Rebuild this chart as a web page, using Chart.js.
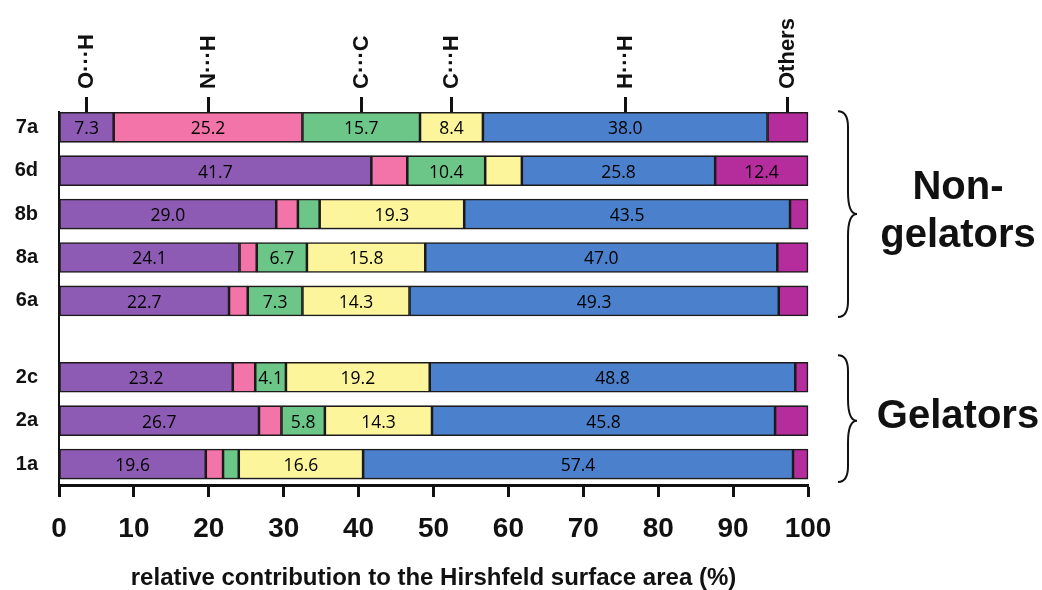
<!DOCTYPE html>
<html>
<head>
<meta charset="utf-8">
<script src="https://cdn.jsdelivr.net/npm/chart.js@4.4.1/dist/chart.umd.min.js"></script>
<style>
  html, body { margin: 0; padding: 0; background: #ffffff; }
  #wrap { width: 1042px; height: 590px; position: relative; }
</style>
</head>
<body>
<div id="wrap"><canvas id="c" width="1042" height="590"></canvas></div>
<script>
// ---------------- data ----------------
const categories = ['7a', '6d', '8b', '8a', '6a', '2c', '2a', '1a'];
const groupOf    = ['non', 'non', 'non', 'non', 'non', 'gel', 'gel', 'gel'];
const groupNames = { non: ['Non-', 'gelators'], gel: ['Gelators'] };

const contactNames = ['O\u00B7\u00B7\u00B7H', 'N\u00B7\u00B7\u00B7H', 'C\u00B7\u00B7\u00B7C', 'C\u00B7\u00B7\u00B7H', 'H\u00B7\u00B7\u00B7H', 'Others'];

const OH     = [7.3, 41.7, 29.0, 24.1, 22.7, 23.2, 26.7, 19.6];
const NH     = [25.2, 4.8, 2.9, 2.3, 2.5, 3.0, 3.0, 2.3];
const CC     = [15.7, 10.4, 2.9, 6.7, 7.3, 4.1, 5.8, 2.1];
const CH     = [8.4, 4.9, 19.3, 15.8, 14.3, 19.2, 14.3, 16.6];
const HH     = [38.0, 25.8, 43.5, 47.0, 49.3, 48.8, 45.8, 57.4];
const Others = [5.4, 12.4, 2.4, 4.1, 3.9, 1.7, 4.4, 2.0];

// which segments carry a printed value in the original figure
const OH_shown     = [1, 1, 1, 1, 1, 1, 1, 1];
const NH_shown     = [1, 0, 0, 0, 0, 0, 0, 0];
const CC_shown     = [1, 1, 0, 1, 1, 1, 1, 0];
const CH_shown     = [1, 0, 1, 1, 1, 1, 1, 1];
const HH_shown     = [1, 1, 1, 1, 1, 1, 1, 1];
const Others_shown = [0, 1, 0, 0, 0, 0, 0, 0];

const xTickValues = [0, 10, 20, 30, 40, 50, 60, 70, 80, 90, 100];
const xTitle = 'relative contribution to the Hirshfeld surface area (%)';

// ---------------- styles / layout ----------------
const colors = ['#8d5bb4', '#f274a8', '#6cc688', '#fdf59b', '#4a80cc', '#b52d9c'];
const GROUP_GAP = 0.76;           // extra spacing between the two groups (in row units)
const rowPos = i => i + (groupOf[i] === 'gel' ? GROUP_GAP : 0);
const BAR_PX = 30;
const SANS = "'Liberation Sans', Arial, Helvetica, sans-serif";
const LABEL_FONT = "'Open Sans', 'Noto Sans', sans-serif";

const seriesValues = [OH, NH, CC, CH, HH, Others];
const seriesShown  = [OH_shown, NH_shown, CC_shown, CH_shown, HH_shown, Others_shown];

// top axis ticks: midpoints of each contact type in the first row
const topTicks = (() => {
  let acc = 0;
  return seriesValues.map(arr => { const m = acc + arr[0] / 2; acc += arr[0]; return m; });
})();

const datasets = seriesValues.map((vals, s) => ({
  label: contactNames[s],
  data: vals.map((v, i) => ({ x: v, y: rowPos(i) })),
  backgroundColor: colors[s],
  borderColor: '#1c1a1b',
  borderWidth: 1.6,
  borderSkipped: false,
  barThickness: BAR_PX,
  xAxisID: 'x',
  yAxisID: 'y',
  clip: false
}));

// value labels inside the segments
const valueLabels = {
  id: 'valueLabels',
  afterDatasetsDraw(chart) {
    const ctx = chart.ctx;
    ctx.save();
    ctx.font = "17.5px " + LABEL_FONT;
    ctx.fillStyle = '#000000';
    ctx.textAlign = 'center';
    ctx.textBaseline = 'middle';
    chart.data.datasets.forEach((ds, s) => {
      const meta = chart.getDatasetMeta(s);
      meta.data.forEach((bar, i) => {
        if (!seriesShown[s][i]) return;
        const p = bar.getCenterPoint();
        ctx.fillText(seriesValues[s][i].toFixed(1), p.x, p.y + 2);
      });
    });
    ctx.restore();
  }
};

// braces + group names on the right
const groupBraces = {
  id: 'groupBraces',
  afterDraw(chart) {
    const ctx = chart.ctx;
    const y = chart.scales.y;
    const groups = [
      { key: 'non', extTop: 1, extBot: 1, lines: groupNames.non, offsets: [-26, 22] },
      { key: 'gel', extTop: 7, extBot: 3, lines: groupNames.gel, offsets: [-4] }
    ];
    ctx.save();
    groups.forEach(g => {
      const idx = categories.map((c, i) => i).filter(i => groupOf[i] === g.key);
      const top = y.getPixelForValue(rowPos(idx[0])) - BAR_PX / 2 - g.extTop;
      const bot = y.getPixelForValue(rowPos(idx[idx.length - 1])) + BAR_PX / 2 + g.extBot;
      const mid = (y.getPixelForValue(rowPos(idx[0])) + y.getPixelForValue(rowPos(idx[idx.length - 1]))) / 2;
      const x0 = 838, x1 = 848, x2 = 857, r = 16, r2 = 22;
      ctx.beginPath();
      ctx.moveTo(x0, top);
      ctx.quadraticCurveTo(x1, top, x1, top + r);
      ctx.lineTo(x1, mid - r2);
      ctx.quadraticCurveTo(x1, mid, x2, mid);
      ctx.quadraticCurveTo(x1, mid, x1, mid + r2);
      ctx.lineTo(x1, bot - r);
      ctx.quadraticCurveTo(x1, bot, x0, bot);
      ctx.lineWidth = 2;
      ctx.strokeStyle = '#111';
      ctx.stroke();

      ctx.font = "bold 40px " + SANS;
      ctx.fillStyle = '#111';
      ctx.textAlign = 'center';
      ctx.textBaseline = 'middle';
      g.lines.forEach((t, k) => ctx.fillText(t, 958, mid + g.offsets[k]));
    });
    ctx.restore();
  }
};

new Chart(document.getElementById('c'), {
  type: 'bar',
  data: { datasets },
  plugins: [valueLabels, groupBraces],
  options: {
    indexAxis: 'y',
    responsive: false,
    animation: false,
    devicePixelRatio: 1,
    layout: { padding: { left: 0, right: 234, top: 0, bottom: 0 } },
    plugins: { legend: { display: false }, tooltip: { enabled: false } },
    scales: {
      x: {
        type: 'linear', position: 'bottom', stacked: true, min: 0, max: 100,
        afterFit: s => { s.height = 105; },
        afterBuildTicks: a => { a.ticks = xTickValues.map(v => ({ value: v })); },
        ticks: {
          autoSkip: false, maxRotation: 0, padding: 15, color: '#111',
          font: { family: SANS, size: 28, weight: 'bold' }
        },
        grid: { display: true, drawOnChartArea: false, drawTicks: true, tickLength: 12, tickWidth: 3, tickColor: '#111' },
        border: { display: true, color: '#111', width: 3 },
        title: {
          display: true, text: xTitle, color: '#111',
          font: { family: SANS, size: 24, weight: 'bold', lineHeight: 1 },
          padding: { top: 0, bottom: 0 }
        }
      },
      x2: {
        type: 'linear', position: 'top', min: 0, max: 100,
        afterFit: s => { s.height = 112; },
        afterBuildTicks: a => { a.ticks = topTicks.map(v => ({ value: v })); },
        ticks: {
          autoSkip: false, minRotation: 90, maxRotation: 90, padding: 8, labelOffset: 27, color: '#111',
          font: { family: SANS, size: 22, weight: 'bold' },
          callback: (v, i) => contactNames[i]
        },
        grid: { display: true, drawOnChartArea: false, drawTicks: true, tickLength: 15, tickWidth: 3, tickColor: '#111' },
        border: { display: false }
      },
      y: {
        type: 'linear', reverse: true, stacked: true, offset: false, min: -0.3525, max: 8.242,
        afterFit: s => { s.width = 59; },
        afterBuildTicks: a => { a.ticks = categories.map((c, i) => ({ value: rowPos(i) })); },
        ticks: {
          autoSkip: false, padding: 21, color: '#111',
          font: { family: SANS, size: 20, weight: 'bold' },
          callback: (v, i) => categories[i]
        },
        grid: { display: false, drawTicks: false, offset: false },
        border: { display: true, color: '#111', width: 2 }
      }
    }
  }
});
</script>
</body>
</html>
